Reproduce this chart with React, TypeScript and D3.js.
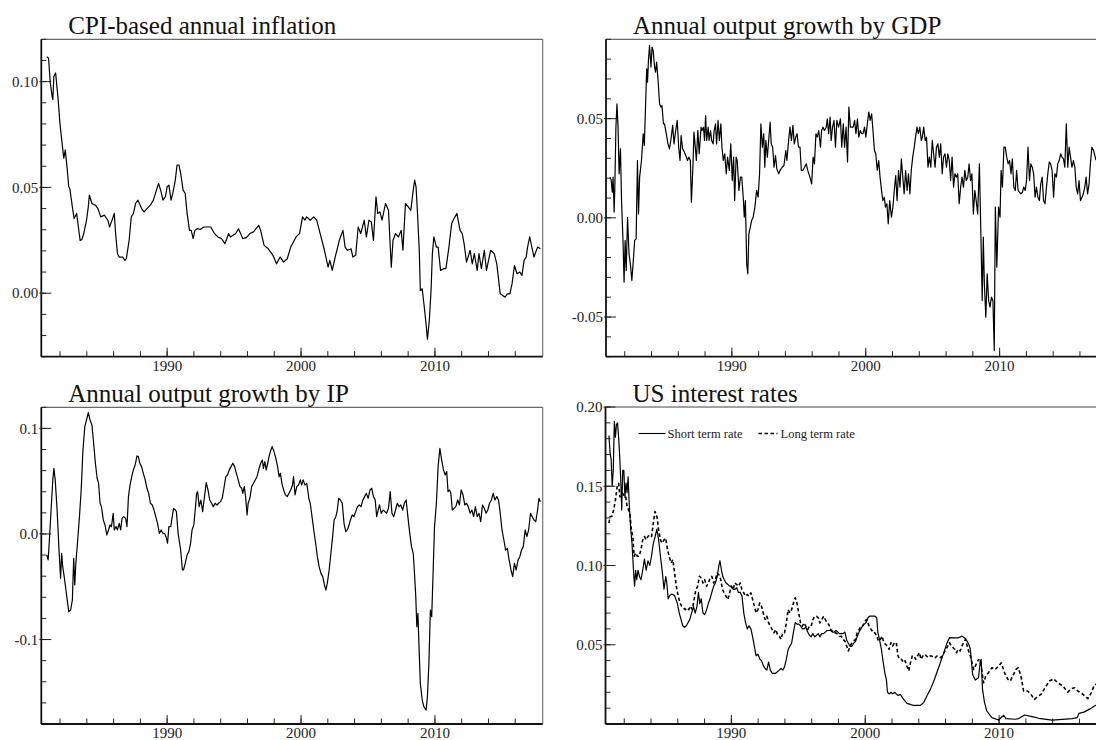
import * as d3 from 'd3';

type Pt = [number, number];

// CPI-based annual inflation (year, rate)
const cpiInflation: Pt[] = [
  [1981.01, 0.1117], [1981.14, 0.1112], [1981.27, 0.0994], [1981.41, 0.093], [1981.46, 0.0915], [1981.54, 0.1025],
  [1981.67, 0.1041], [1981.86, 0.0915], [1981.99, 0.0804], [1982.18, 0.0693], [1982.28, 0.0638], [1982.39, 0.0677],
  [1982.52, 0.0598], [1982.65, 0.0503], [1982.73, 0.0495], [1982.92, 0.0408], [1983.05, 0.0353], [1983.24, 0.0377],
  [1983.37, 0.0313], [1983.5, 0.025], [1983.63, 0.0253], [1983.77, 0.0282], [1983.98, 0.0345], [1984.11, 0.0408],
  [1984.19, 0.0464], [1984.38, 0.0424], [1984.64, 0.0416], [1984.83, 0.04], [1985.04, 0.0361], [1985.31, 0.0369],
  [1985.57, 0.0345], [1985.7, 0.0313], [1985.97, 0.0361], [1986.05, 0.0377], [1986.15, 0.0282], [1986.29, 0.0187],
  [1986.42, 0.0171], [1986.68, 0.0171], [1986.84, 0.0155], [1986.95, 0.0163], [1987.16, 0.025], [1987.32, 0.0361],
  [1987.48, 0.0377], [1987.64, 0.0424], [1987.82, 0.044], [1988.09, 0.04], [1988.28, 0.0384], [1988.49, 0.04],
  [1988.75, 0.0416], [1988.97, 0.044], [1989.2, 0.0487], [1989.36, 0.0519], [1989.55, 0.0479], [1989.68, 0.044],
  [1989.87, 0.0456], [1990.0, 0.0503], [1990.13, 0.0511], [1990.29, 0.044], [1990.42, 0.0472], [1990.61, 0.0535],
  [1990.74, 0.0606], [1990.88, 0.0606], [1991.01, 0.0566], [1991.19, 0.0487], [1991.35, 0.0472], [1991.49, 0.0377],
  [1991.67, 0.0297], [1991.8, 0.0297], [1991.94, 0.0258], [1992.07, 0.0297], [1992.25, 0.0305], [1992.47, 0.0301],
  [1992.73, 0.0313], [1993.0, 0.0313], [1993.26, 0.0313], [1993.53, 0.0282], [1993.79, 0.0266], [1994.06, 0.0258],
  [1994.32, 0.0234], [1994.59, 0.0282], [1994.72, 0.0266], [1995.12, 0.0282], [1995.33, 0.0305], [1995.65, 0.0258],
  [1995.92, 0.0263], [1996.18, 0.0282], [1996.45, 0.029], [1996.84, 0.0321], [1996.98, 0.0297], [1997.24, 0.0226],
  [1997.56, 0.021], [1997.9, 0.0179], [1998.17, 0.0139], [1998.44, 0.0171], [1998.7, 0.0147], [1998.97, 0.0163],
  [1999.23, 0.0218], [1999.63, 0.0266], [1999.89, 0.0282], [2000.11, 0.0361], [2000.29, 0.0345], [2000.42, 0.0361],
  [2000.69, 0.0345], [2000.95, 0.0361], [2001.17, 0.0345], [2001.49, 0.0266], [2001.75, 0.0203], [2002.02, 0.0123],
  [2002.15, 0.0155], [2002.33, 0.0108], [2002.55, 0.0171], [2002.68, 0.0203], [2002.86, 0.025], [2003.13, 0.0297],
  [2003.29, 0.0218], [2003.47, 0.0203], [2003.74, 0.021], [2003.87, 0.0171], [2004.08, 0.0179], [2004.27, 0.0313],
  [2004.46, 0.0282], [2004.72, 0.0345], [2004.88, 0.0266], [2005.07, 0.0345], [2005.25, 0.0337], [2005.41, 0.025],
  [2005.6, 0.0456], [2005.73, 0.0377], [2005.89, 0.0384], [2006.05, 0.0345], [2006.31, 0.0424], [2006.53, 0.0392],
  [2006.74, 0.0123], [2006.87, 0.025], [2007.06, 0.0282], [2007.27, 0.0266], [2007.48, 0.0297], [2007.61, 0.0203],
  [2007.8, 0.0424], [2008.01, 0.0408], [2008.2, 0.0392], [2008.38, 0.0487], [2008.49, 0.0535], [2008.59, 0.0503],
  [2008.7, 0.0377], [2008.83, 0.0203], [2008.91, 0.0013], [2009.05, 0.0021], [2009.18, -0.0051], [2009.34, -0.0146],
  [2009.44, -0.0217], [2009.58, -0.013], [2009.71, 0.0013], [2009.81, 0.0187], [2009.92, 0.0266], [2010.11, 0.0218],
  [2010.24, 0.0218], [2010.42, 0.0108], [2010.64, 0.0116], [2010.82, 0.0116], [2011.03, 0.021], [2011.25, 0.0329],
  [2011.43, 0.0353], [2011.64, 0.0377], [2011.88, 0.0297], [2012.04, 0.0282], [2012.18, 0.0234], [2012.36, 0.0147],
  [2012.63, 0.0203], [2012.79, 0.0139], [2012.94, 0.0187], [2013.16, 0.0108], [2013.29, 0.0187], [2013.47, 0.0116],
  [2013.69, 0.0203], [2013.85, 0.0108], [2014.16, 0.0203], [2014.43, 0.0187], [2014.62, 0.0139], [2014.88, -0.0003],
  [2015.07, -0.0011], [2015.23, -0.0019], [2015.41, -0.0003], [2015.6, -0.0003], [2015.76, 0.0044], [2015.94, 0.0131],
  [2016.13, 0.0092], [2016.34, 0.01], [2016.5, 0.0084], [2016.66, 0.0155], [2016.82, 0.0171], [2016.92, 0.0218],
  [2017.08, 0.0266], [2017.24, 0.0218], [2017.4, 0.0171], [2017.53, 0.0195], [2017.67, 0.0218], [2017.88, 0.021],
];

// Annual output growth by GDP
const gdpGrowth: Pt[] = [
  [1980.91, 0.0205], [1980.99, 0.0188], [1981.07, 0.0129], [1981.13, 0.0205], [1981.21, 0.0029], [1981.26, 0.0155],
  [1981.34, 0.0457], [1981.42, 0.0575], [1981.5, 0.0457], [1981.58, 0.0222], [1981.68, 0.0348], [1981.76, 0.0087],
  [1981.87, -0.0114], [1981.95, -0.0324], [1982.03, -0.0114], [1982.11, -0.0266], [1982.21, 0.0003], [1982.32, -0.0182],
  [1982.42, -0.0232], [1982.53, -0.0316], [1982.64, -0.0215], [1982.74, -0.0114], [1982.85, -0.0106], [1982.95, 0.0289],
  [1983.03, 0.002], [1983.11, 0.0205], [1983.25, 0.0289], [1983.38, 0.0424], [1983.46, 0.0365], [1983.56, 0.0575],
  [1983.64, 0.0751], [1983.7, 0.0684], [1983.77, 0.0793], [1983.85, 0.0869], [1983.96, 0.076], [1984.04, 0.0861],
  [1984.12, 0.0844], [1984.23, 0.076], [1984.3, 0.0734], [1984.38, 0.0785], [1984.49, 0.0692], [1984.6, 0.0575],
  [1984.7, 0.0558], [1984.78, 0.0566], [1984.89, 0.0474], [1984.97, 0.0474], [1985.1, 0.0424], [1985.23, 0.0373],
  [1985.34, 0.0348], [1985.44, 0.039], [1985.58, 0.0466], [1985.68, 0.0373], [1985.79, 0.0432], [1985.92, 0.0491],
  [1986.03, 0.0356], [1986.13, 0.0289], [1986.21, 0.0415], [1986.32, 0.0348], [1986.4, 0.0339], [1986.5, 0.0323],
  [1986.61, 0.0306], [1986.69, 0.0289], [1986.79, 0.0306], [1986.9, 0.0289], [1986.98, 0.0079], [1987.09, 0.0255],
  [1987.17, 0.0432], [1987.25, 0.0373], [1987.35, 0.0289], [1987.46, 0.044], [1987.56, 0.0323], [1987.7, 0.0457],
  [1987.77, 0.044], [1987.88, 0.0457], [1987.96, 0.039], [1988.04, 0.0516], [1988.12, 0.039], [1988.23, 0.0457],
  [1988.3, 0.039], [1988.41, 0.044], [1988.49, 0.039], [1988.6, 0.0373], [1988.68, 0.044], [1988.78, 0.0474],
  [1988.86, 0.0373], [1988.97, 0.0491], [1989.07, 0.039], [1989.18, 0.0474], [1989.26, 0.0356], [1989.36, 0.0289],
  [1989.47, 0.0323], [1989.58, 0.0222], [1989.68, 0.0306], [1989.81, 0.0239], [1989.92, 0.0373], [1990.03, 0.0188],
  [1990.13, 0.0306], [1990.21, 0.0087], [1990.32, 0.0306], [1990.4, 0.0289], [1990.53, 0.0138], [1990.64, 0.0205],
  [1990.74, 0.0205], [1990.85, 0.0104], [1990.93, 0.0003], [1991.01, 0.0087], [1991.11, -0.0232], [1991.19, -0.0282],
  [1991.27, -0.0081], [1991.38, -0.0047], [1991.48, -0.0013], [1991.59, 0.0003], [1991.72, 0.0054], [1991.85, 0.0138],
  [1991.96, 0.0104], [1992.07, 0.0222], [1992.17, 0.0474], [1992.28, 0.0356], [1992.38, 0.0424], [1992.46, 0.0255],
  [1992.54, 0.039], [1992.65, 0.0306], [1992.75, 0.039], [1992.86, 0.0482], [1992.94, 0.0373], [1993.05, 0.0356],
  [1993.15, 0.0255], [1993.26, 0.0314], [1993.36, 0.0247], [1993.5, 0.0222], [1993.6, 0.0239], [1993.76, 0.0255],
  [1993.89, 0.0264], [1994.03, 0.0339], [1994.11, 0.0289], [1994.24, 0.039], [1994.34, 0.0457], [1994.45, 0.039],
  [1994.56, 0.0466], [1994.66, 0.0373], [1994.77, 0.0407], [1994.87, 0.0424], [1994.98, 0.0356], [1995.09, 0.0356],
  [1995.19, 0.0239], [1995.3, 0.0239], [1995.43, 0.0255], [1995.56, 0.0272], [1995.67, 0.0239], [1995.83, 0.0205],
  [1995.96, 0.0171], [1996.07, 0.0306], [1996.17, 0.0272], [1996.28, 0.0424], [1996.38, 0.0407], [1996.49, 0.044],
  [1996.62, 0.0356], [1996.7, 0.044], [1996.81, 0.0457], [1996.91, 0.044], [1997.05, 0.0457], [1997.13, 0.0499],
  [1997.23, 0.0424], [1997.34, 0.0508], [1997.42, 0.039], [1997.52, 0.0457], [1997.63, 0.0491], [1997.74, 0.0356],
  [1997.84, 0.0491], [1997.97, 0.0457], [1998.11, 0.0499], [1998.21, 0.0356], [1998.32, 0.0474], [1998.42, 0.0356],
  [1998.53, 0.0457], [1998.64, 0.0281], [1998.74, 0.0558], [1998.85, 0.0457], [1998.95, 0.0457], [1999.06, 0.0457],
  [1999.17, 0.0491], [1999.27, 0.0424], [1999.38, 0.0499], [1999.48, 0.0407], [1999.59, 0.044], [1999.7, 0.0424],
  [1999.8, 0.0424], [1999.91, 0.0457], [2000.01, 0.0407], [2000.12, 0.0474], [2000.23, 0.0533], [2000.33, 0.0491],
  [2000.44, 0.0524], [2000.54, 0.044], [2000.65, 0.0339], [2000.75, 0.0323], [2000.86, 0.0239], [2000.97, 0.0289],
  [2001.07, 0.0205], [2001.18, 0.0138], [2001.28, 0.0087], [2001.39, 0.0104], [2001.47, 0.0054], [2001.58, 0.0071],
  [2001.68, -0.003], [2001.79, 0.0087], [2001.92, 0.0003], [2002.03, 0.0054], [2002.13, 0.0138], [2002.24, 0.0213],
  [2002.34, 0.0087], [2002.45, 0.0239], [2002.56, 0.0155], [2002.66, 0.0297], [2002.77, 0.0205], [2002.87, 0.0121],
  [2002.98, 0.0239], [2003.09, 0.0138], [2003.19, 0.0222], [2003.3, 0.0121], [2003.4, 0.0239], [2003.51, 0.0306],
  [2003.62, 0.0356], [2003.72, 0.0407], [2003.83, 0.0457], [2003.93, 0.0424], [2004.04, 0.0457], [2004.15, 0.039],
  [2004.23, 0.0407], [2004.33, 0.0457], [2004.44, 0.039], [2004.54, 0.0407], [2004.65, 0.0255], [2004.75, 0.0306],
  [2004.86, 0.0255], [2004.97, 0.039], [2005.07, 0.0323], [2005.18, 0.0255], [2005.28, 0.0356], [2005.39, 0.0373],
  [2005.5, 0.0306], [2005.6, 0.0373], [2005.71, 0.0222], [2005.81, 0.0306], [2005.92, 0.0323], [2006.03, 0.0255],
  [2006.13, 0.0323], [2006.24, 0.0289], [2006.34, 0.0188], [2006.45, 0.0306], [2006.56, 0.0155], [2006.66, 0.0222],
  [2006.77, 0.0205], [2006.87, 0.0222], [2006.98, 0.0071], [2007.09, 0.0155], [2007.19, 0.0205], [2007.3, 0.0155],
  [2007.4, 0.0239], [2007.51, 0.0188], [2007.62, 0.0205], [2007.72, 0.0272], [2007.83, 0.0188], [2007.93, 0.0222],
  [2008.04, 0.002], [2008.15, 0.0138], [2008.25, 0.0087], [2008.36, 0.002], [2008.49, 0.0272], [2008.6, -0.0081],
  [2008.7, -0.0417], [2008.78, -0.0097], [2008.86, -0.0333], [2008.97, -0.0501], [2009.07, -0.0282], [2009.18, -0.0417],
  [2009.28, -0.045], [2009.39, -0.04], [2009.5, -0.0417], [2009.6, -0.0669], [2009.68, 0.0054], [2009.79, -0.0249],
  [2009.92, 0.0054], [2010.03, 0.0003], [2010.11, 0.0239], [2010.21, 0.0155], [2010.32, 0.0356], [2010.42, 0.0356],
  [2010.53, 0.0306], [2010.64, 0.0272], [2010.74, 0.0289], [2010.85, 0.0222], [2010.95, 0.0297], [2011.06, 0.0155],
  [2011.17, 0.0138], [2011.27, 0.0239], [2011.38, 0.0138], [2011.48, 0.0129], [2011.59, 0.0121], [2011.7, 0.0129],
  [2011.8, 0.0155], [2011.91, 0.0138], [2012.01, 0.0188], [2012.12, 0.0356], [2012.23, 0.0188], [2012.33, 0.0272],
  [2012.44, 0.0255], [2012.54, 0.0222], [2012.65, 0.0104], [2012.75, 0.0155], [2012.86, 0.0104], [2012.97, 0.0087],
  [2013.07, 0.0171], [2013.18, 0.0205], [2013.28, 0.0087], [2013.39, 0.0071], [2013.5, 0.0155], [2013.6, 0.0222],
  [2013.71, 0.0281], [2013.81, 0.0272], [2013.92, 0.0239], [2014.03, 0.0104], [2014.13, 0.0222], [2014.24, 0.0205],
  [2014.34, 0.0272], [2014.45, 0.0289], [2014.56, 0.0323], [2014.66, 0.0306], [2014.77, 0.0297], [2014.87, 0.0255],
  [2014.98, 0.0474], [2015.09, 0.0255], [2015.19, 0.0356], [2015.3, 0.0306], [2015.4, 0.0255], [2015.51, 0.0289],
  [2015.62, 0.0255], [2015.72, 0.0155], [2015.83, 0.0121], [2015.93, 0.0188], [2016.04, 0.0087], [2016.15, 0.0104],
  [2016.25, 0.0121], [2016.36, 0.0155], [2016.46, 0.0205], [2016.57, 0.0121], [2016.68, 0.0171], [2016.78, 0.0272],
  [2016.89, 0.0356], [2017.02, 0.0339], [2017.2, 0.029],
];

// Annual output growth by IP
const ipGrowth: Pt[] = [
  [1981.01, -0.0199], [1981.11, -0.0246], [1981.19, -0.0088], [1981.33, 0.0227], [1981.46, 0.0512], [1981.54, 0.0622],
  [1981.64, 0.0512], [1981.78, 0.0227], [1981.91, -0.012], [1982.04, -0.042], [1982.12, -0.0183], [1982.2, -0.031],
  [1982.31, -0.0404], [1982.44, -0.0531], [1982.57, -0.0657], [1982.65, -0.0736], [1982.79, -0.072], [1982.92, -0.0626],
  [1983.02, -0.0231], [1983.1, -0.0483], [1983.18, -0.0278], [1983.32, -0.0057], [1983.45, 0.0164], [1983.58, 0.0417],
  [1983.71, 0.0796], [1983.85, 0.1017], [1983.98, 0.1081], [1984.11, 0.115], [1984.24, 0.1081], [1984.38, 0.1033],
  [1984.51, 0.0859], [1984.64, 0.067], [1984.77, 0.0528], [1984.88, 0.048], [1984.99, 0.0291], [1985.09, 0.0259],
  [1985.23, 0.0133], [1985.36, 0.0085], [1985.49, -0.0009], [1985.62, 0.0038], [1985.73, 0.0085], [1985.84, 0.007],
  [1985.97, 0.0196], [1986.05, 0.0038], [1986.18, 0.007], [1986.29, 0.0038], [1986.42, 0.0101], [1986.53, 0.0038],
  [1986.63, 0.0148], [1986.76, 0.0164], [1986.9, 0.0148], [1987.0, 0.007], [1987.11, 0.0354], [1987.21, 0.0449],
  [1987.35, 0.0543], [1987.48, 0.0607], [1987.61, 0.0654], [1987.75, 0.0739], [1987.85, 0.0733], [1987.96, 0.067],
  [1988.09, 0.0638], [1988.22, 0.0575], [1988.36, 0.0512], [1988.49, 0.0433], [1988.62, 0.0385], [1988.75, 0.0291],
  [1988.89, 0.0275], [1989.02, 0.0227], [1989.15, 0.0164], [1989.28, 0.0101], [1989.42, 0.0006], [1989.55, 0.0038],
  [1989.68, 0.0006], [1989.81, 0.0006], [1989.95, -0.0041], [1990.03, -0.0088], [1990.13, 0.007], [1990.27, 0.007],
  [1990.34, 0.0133], [1990.48, 0.0243], [1990.61, 0.0227], [1990.69, 0.0212], [1990.82, 0.0006], [1990.93, -0.0088],
  [1991.01, -0.0152], [1991.14, -0.0341], [1991.22, -0.0341], [1991.35, -0.0278], [1991.49, -0.0199], [1991.62, -0.0167],
  [1991.75, -0.0088], [1991.86, 0.0038], [1991.99, 0.0085], [1992.12, 0.0259], [1992.2, 0.0385], [1992.28, 0.0401],
  [1992.39, 0.0259], [1992.52, 0.0322], [1992.65, 0.0212], [1992.79, 0.0354], [1992.92, 0.0487], [1993.05, 0.0417],
  [1993.18, 0.0322], [1993.32, 0.0291], [1993.45, 0.0259], [1993.58, 0.0291], [1993.71, 0.0275], [1993.85, 0.0291],
  [1993.98, 0.0306], [1994.11, 0.0338], [1994.24, 0.0433], [1994.38, 0.0543], [1994.51, 0.0559], [1994.64, 0.0607],
  [1994.77, 0.0638], [1994.91, 0.067], [1995.04, 0.0638], [1995.17, 0.0575], [1995.31, 0.0512], [1995.44, 0.0449],
  [1995.57, 0.0433], [1995.65, 0.0385], [1995.76, 0.0449], [1995.86, 0.0354], [1995.97, 0.018], [1996.05, 0.0291],
  [1996.18, 0.0338], [1996.31, 0.0449], [1996.45, 0.048], [1996.58, 0.0512], [1996.71, 0.0543], [1996.84, 0.0607],
  [1996.98, 0.067], [1997.11, 0.0701], [1997.19, 0.0622], [1997.29, 0.0686], [1997.4, 0.0607], [1997.51, 0.067],
  [1997.64, 0.0749], [1997.75, 0.0796], [1997.85, 0.0828], [1997.98, 0.078], [1998.12, 0.0717], [1998.25, 0.0638],
  [1998.36, 0.0543], [1998.46, 0.0575], [1998.57, 0.048], [1998.7, 0.0417], [1998.83, 0.037], [1998.97, 0.0354],
  [1999.1, 0.0385], [1999.23, 0.0417], [1999.36, 0.0464], [1999.44, 0.0543], [1999.55, 0.037], [1999.68, 0.0449],
  [1999.81, 0.0464], [1999.95, 0.0512], [2000.05, 0.0464], [2000.16, 0.0512], [2000.29, 0.0464], [2000.42, 0.048],
  [2000.5, 0.0417], [2000.58, 0.0338], [2000.69, 0.0291], [2000.82, 0.0164], [2000.95, 0.0038], [2001.09, -0.0088],
  [2001.22, -0.0215], [2001.35, -0.031], [2001.49, -0.0373], [2001.62, -0.0404], [2001.75, -0.0483], [2001.86, -0.0531],
  [2001.96, -0.0468], [2002.1, -0.0341], [2002.23, -0.0183], [2002.36, -0.0025], [2002.47, 0.0133], [2002.6, 0.0164],
  [2002.71, 0.0227], [2002.81, 0.0338], [2002.94, 0.0322], [2003.08, 0.0291], [2003.21, 0.0101], [2003.34, 0.0022],
  [2003.45, 0.0038], [2003.55, 0.007], [2003.69, 0.0133], [2003.82, 0.018], [2003.95, 0.0164], [2004.08, 0.0212],
  [2004.22, 0.0259], [2004.35, 0.0275], [2004.48, 0.0259], [2004.62, 0.0322], [2004.75, 0.0354], [2004.88, 0.0385],
  [2005.01, 0.0338], [2005.15, 0.0417], [2005.28, 0.0433], [2005.41, 0.0354], [2005.54, 0.0322], [2005.65, 0.0164],
  [2005.76, 0.0227], [2005.86, 0.0275], [2005.99, 0.0196], [2006.13, 0.0227], [2006.26, 0.0212], [2006.39, 0.0196],
  [2006.53, 0.0243], [2006.66, 0.0401], [2006.79, 0.0196], [2006.92, 0.0164], [2007.06, 0.0227], [2007.19, 0.0291],
  [2007.32, 0.0259], [2007.45, 0.0275], [2007.59, 0.0227], [2007.72, 0.0291], [2007.85, 0.0322], [2007.98, 0.0164],
  [2008.12, 0.0006], [2008.25, -0.012], [2008.38, -0.0183], [2008.46, -0.0341], [2008.57, -0.0594], [2008.65, -0.0878],
  [2008.73, -0.0752], [2008.83, -0.1131], [2008.91, -0.1415], [2009.05, -0.1573], [2009.18, -0.1637], [2009.34, -0.1668],
  [2009.44, -0.1542], [2009.55, -0.1226], [2009.66, -0.072], [2009.76, -0.0784], [2009.87, -0.0341], [2009.97, 0.007],
  [2010.11, 0.0291], [2010.24, 0.0638], [2010.37, 0.0812], [2010.5, 0.0701], [2010.64, 0.0607], [2010.77, 0.0559],
  [2010.88, 0.0591], [2010.98, 0.0401], [2011.09, 0.0417], [2011.19, 0.0385], [2011.3, 0.0227], [2011.43, 0.0243],
  [2011.56, 0.0259], [2011.7, 0.0322], [2011.83, 0.0275], [2011.96, 0.0417], [2012.1, 0.037], [2012.23, 0.0275],
  [2012.36, 0.0291], [2012.49, 0.0259], [2012.63, 0.0196], [2012.76, 0.0227], [2012.89, 0.0164], [2013.02, 0.0259],
  [2013.16, 0.0164], [2013.29, 0.0196], [2013.42, 0.0117], [2013.55, 0.0275], [2013.69, 0.0243], [2013.82, 0.0196],
  [2013.95, 0.0227], [2014.08, 0.0291], [2014.22, 0.0322], [2014.35, 0.0385], [2014.48, 0.0322], [2014.62, 0.0354],
  [2014.75, 0.0322], [2014.88, 0.0196], [2015.01, 0.0038], [2015.15, -0.0057], [2015.28, -0.0152], [2015.41, -0.0136],
  [2015.54, -0.0246], [2015.68, -0.0341], [2015.81, -0.0404], [2015.94, -0.0278], [2016.07, -0.0341], [2016.21, -0.0246],
  [2016.34, -0.0215], [2016.47, -0.0152], [2016.6, -0.012], [2016.74, 0.0038], [2016.87, -0.0025], [2017.0, 0.0038],
  [2017.14, 0.0196], [2017.27, 0.0164], [2017.4, 0.0133], [2017.53, 0.0117], [2017.67, 0.0227], [2017.77, 0.0338],
  [2017.88, 0.0306],
];

// US short term interest rate
const shortRate: Pt[] = [
  [1980.86, 0.182], [1980.94, 0.171], [1981.02, 0.167], [1981.1, 0.15], [1981.18, 0.16], [1981.26, 0.191],
  [1981.34, 0.181], [1981.42, 0.189], [1981.5, 0.19], [1981.58, 0.181], [1981.66, 0.169], [1981.74, 0.154],
  [1981.81, 0.135], [1981.89, 0.16], [1981.97, 0.16], [1982.05, 0.143], [1982.13, 0.152], [1982.21, 0.146],
  [1982.29, 0.156], [1982.37, 0.139], [1982.48, 0.123], [1982.58, 0.114], [1982.69, 0.097], [1982.77, 0.087],
  [1982.85, 0.097], [1982.93, 0.091], [1983.03, 0.097], [1983.14, 0.093], [1983.25, 0.091], [1983.38, 0.097],
  [1983.51, 0.104], [1983.64, 0.097], [1983.77, 0.103], [1983.91, 0.1], [1984.04, 0.106], [1984.17, 0.114],
  [1984.3, 0.118], [1984.44, 0.123], [1984.57, 0.116], [1984.7, 0.106], [1984.83, 0.097], [1984.97, 0.085],
  [1985.1, 0.093], [1985.18, 0.089], [1985.28, 0.079], [1985.39, 0.081], [1985.55, 0.082], [1985.76, 0.081],
  [1985.97, 0.076], [1986.11, 0.07], [1986.24, 0.066], [1986.37, 0.062], [1986.5, 0.061], [1986.64, 0.062],
  [1986.77, 0.064], [1986.9, 0.066], [1987.03, 0.07], [1987.17, 0.074], [1987.3, 0.07], [1987.43, 0.074],
  [1987.54, 0.083], [1987.64, 0.076], [1987.75, 0.079], [1987.88, 0.07], [1988.01, 0.069], [1988.15, 0.072],
  [1988.28, 0.076], [1988.41, 0.079], [1988.54, 0.083], [1988.68, 0.087], [1988.81, 0.089], [1988.94, 0.093],
  [1989.07, 0.1], [1989.15, 0.103], [1989.26, 0.097], [1989.36, 0.093], [1989.47, 0.091], [1989.6, 0.089],
  [1989.74, 0.088], [1989.87, 0.087], [1990.0, 0.087], [1990.13, 0.085], [1990.26, 0.085], [1990.4, 0.086],
  [1990.53, 0.083], [1990.66, 0.083], [1990.79, 0.081], [1990.93, 0.07], [1991.06, 0.064], [1991.19, 0.06],
  [1991.32, 0.062], [1991.46, 0.06], [1991.59, 0.055], [1991.72, 0.049], [1991.85, 0.043], [1991.99, 0.044],
  [1992.12, 0.041], [1992.25, 0.04], [1992.38, 0.037], [1992.52, 0.035], [1992.65, 0.034], [1992.78, 0.039],
  [1992.91, 0.034], [1993.05, 0.032], [1993.31, 0.032], [1993.58, 0.034], [1993.71, 0.035], [1993.84, 0.034],
  [1993.97, 0.036], [1994.11, 0.041], [1994.24, 0.047], [1994.37, 0.049], [1994.5, 0.051], [1994.64, 0.058],
  [1994.77, 0.064], [1994.9, 0.063], [1995.03, 0.063], [1995.17, 0.062], [1995.3, 0.06], [1995.43, 0.06],
  [1995.56, 0.061], [1995.7, 0.058], [1995.83, 0.056], [1995.96, 0.055], [1996.09, 0.057], [1996.23, 0.055],
  [1996.36, 0.056], [1996.49, 0.057], [1996.62, 0.055], [1996.75, 0.057], [1996.89, 0.057], [1997.02, 0.058],
  [1997.15, 0.059], [1997.42, 0.059], [1997.55, 0.058], [1997.68, 0.058], [1997.81, 0.059], [1997.95, 0.058],
  [1998.08, 0.057], [1998.34, 0.057], [1998.48, 0.058], [1998.61, 0.053], [1998.74, 0.051], [1998.87, 0.049],
  [1999.01, 0.049], [1999.14, 0.051], [1999.27, 0.052], [1999.4, 0.055], [1999.54, 0.058], [1999.67, 0.06],
  [1999.8, 0.062], [1999.93, 0.063], [2000.07, 0.064], [2000.2, 0.067], [2000.33, 0.068], [2000.46, 0.068],
  [2000.6, 0.068], [2000.73, 0.068], [2000.86, 0.067], [2000.94, 0.058], [2001.07, 0.053], [2001.21, 0.047],
  [2001.34, 0.039], [2001.47, 0.032], [2001.58, 0.028], [2001.66, 0.02], [2001.79, 0.019], [2001.92, 0.02],
  [2002.05, 0.019], [2002.19, 0.02], [2002.32, 0.019], [2002.45, 0.018], [2002.62, 0.0187], [2002.87, 0.0155],
  [2003.12, 0.013], [2003.37, 0.0124], [2003.6, 0.0117], [2004.12, 0.0118], [2004.37, 0.0135], [2004.62, 0.018],
  [2004.87, 0.022], [2005.12, 0.027], [2005.37, 0.033], [2005.62, 0.039], [2005.87, 0.045], [2006.1, 0.051],
  [2006.3, 0.0545], [2006.69, 0.0544], [2006.95, 0.0544], [2007.09, 0.0548], [2007.22, 0.0555], [2007.48, 0.054],
  [2007.62, 0.052], [2007.75, 0.05], [2007.85, 0.047], [2008.02, 0.0312], [2008.22, 0.0277], [2008.46, 0.0292],
  [2008.59, 0.0396], [2008.66, 0.0407], [2008.76, 0.0218], [2008.91, 0.0135], [2009.08, 0.0082], [2009.46, 0.004],
  [2009.96, 0.0025], [2010.34, 0.0055], [2010.51, 0.0034], [2011.21, 0.003], [2011.46, 0.0034], [2011.91, 0.0057],
  [2012.46, 0.0047], [2012.96, 0.0036], [2013.96, 0.0025], [2015.46, 0.0034], [2015.84, 0.004], [2015.96, 0.0067],
  [2016.33, 0.0075], [2016.83, 0.0097], [2017.2, 0.0118], [2017.9, 0.0135],
];

// US long term interest rate
const longRate: Pt[] = [
  [1980.86, 0.1267], [1980.94, 0.1309], [1981.07, 0.1309], [1981.21, 0.1351], [1981.34, 0.1413], [1981.47, 0.1497],
  [1981.58, 0.1518], [1981.68, 0.1434], [1981.79, 0.1434], [1981.89, 0.1455], [1982.0, 0.1434], [1982.11, 0.1434],
  [1982.21, 0.1371], [1982.32, 0.1351], [1982.42, 0.133], [1982.53, 0.1225], [1982.64, 0.1183], [1982.74, 0.1058],
  [1982.85, 0.1079], [1982.98, 0.1058], [1983.11, 0.1058], [1983.25, 0.11], [1983.38, 0.1162], [1983.51, 0.1183],
  [1983.64, 0.1162], [1983.77, 0.1183], [1983.91, 0.1193], [1984.04, 0.1183], [1984.17, 0.1267], [1984.3, 0.134],
  [1984.44, 0.1309], [1984.57, 0.1225], [1984.7, 0.1162], [1984.83, 0.1141], [1984.97, 0.1162], [1985.1, 0.1172],
  [1985.23, 0.11], [1985.36, 0.1058], [1985.5, 0.1016], [1985.63, 0.1037], [1985.76, 0.0953], [1985.89, 0.0869],
  [1986.03, 0.0806], [1986.16, 0.0764], [1986.29, 0.0743], [1986.42, 0.0733], [1986.56, 0.0722], [1986.69, 0.0733],
  [1986.82, 0.0722], [1986.95, 0.0743], [1987.09, 0.0722], [1987.22, 0.0785], [1987.35, 0.0848], [1987.48, 0.0869],
  [1987.62, 0.0932], [1987.75, 0.0921], [1987.88, 0.089], [1988.01, 0.0911], [1988.15, 0.0869], [1988.28, 0.089],
  [1988.41, 0.0921], [1988.54, 0.0932], [1988.68, 0.089], [1988.81, 0.0911], [1988.94, 0.0953], [1989.07, 0.0942],
  [1989.21, 0.0911], [1989.34, 0.0848], [1989.47, 0.0827], [1989.6, 0.0806], [1989.74, 0.0785], [1989.87, 0.0827],
  [1990.0, 0.0869], [1990.13, 0.0848], [1990.26, 0.089], [1990.4, 0.088], [1990.53, 0.0869], [1990.66, 0.089],
  [1990.79, 0.0848], [1990.93, 0.0827], [1991.06, 0.0806], [1991.19, 0.0817], [1991.32, 0.0806], [1991.46, 0.0827],
  [1991.59, 0.0785], [1991.72, 0.0743], [1991.85, 0.0701], [1991.99, 0.0722], [1992.12, 0.0764], [1992.25, 0.0743],
  [1992.38, 0.0701], [1992.52, 0.0659], [1992.65, 0.068], [1992.78, 0.0638], [1992.91, 0.0617], [1993.05, 0.0596],
  [1993.18, 0.0575], [1993.31, 0.0596], [1993.44, 0.0565], [1993.58, 0.0554], [1993.71, 0.0534], [1993.84, 0.0575],
  [1993.97, 0.0575], [1994.11, 0.0638], [1994.24, 0.0722], [1994.37, 0.0701], [1994.5, 0.0722], [1994.64, 0.0764],
  [1994.77, 0.0796], [1994.9, 0.0764], [1995.03, 0.0701], [1995.17, 0.0638], [1995.3, 0.0617], [1995.43, 0.0638],
  [1995.56, 0.0617], [1995.7, 0.0596], [1995.83, 0.0617], [1995.96, 0.0617], [1996.09, 0.0659], [1996.23, 0.068],
  [1996.36, 0.068], [1996.49, 0.067], [1996.62, 0.0638], [1996.75, 0.0659], [1996.89, 0.068], [1997.02, 0.0659],
  [1997.15, 0.0638], [1997.28, 0.0628], [1997.42, 0.0596], [1997.55, 0.0586], [1997.68, 0.0575], [1997.81, 0.0575],
  [1997.95, 0.0565], [1998.08, 0.0554], [1998.21, 0.0554], [1998.34, 0.0534], [1998.48, 0.0523], [1998.61, 0.0492],
  [1998.74, 0.0461], [1998.87, 0.0492], [1999.01, 0.0513], [1999.14, 0.0523], [1999.27, 0.0534], [1999.4, 0.0575],
  [1999.54, 0.0596], [1999.67, 0.0617], [1999.8, 0.0617], [1999.93, 0.0638], [2000.07, 0.0659], [2000.2, 0.0638],
  [2000.33, 0.0607], [2000.46, 0.0596], [2000.6, 0.0575], [2000.73, 0.0575], [2000.86, 0.0554], [2000.99, 0.0523],
  [2001.13, 0.0534], [2001.26, 0.0554], [2001.39, 0.0513], [2001.52, 0.0502], [2001.66, 0.0492], [2001.79, 0.0471],
  [2001.92, 0.0513], [2002.05, 0.0492], [2002.19, 0.0513], [2002.32, 0.0513], [2002.45, 0.0429], [2002.58, 0.0408],
  [2002.72, 0.0408], [2002.85, 0.0387], [2002.98, 0.0398], [2003.11, 0.0366], [2003.25, 0.0335], [2003.38, 0.0387],
  [2003.51, 0.0429], [2003.64, 0.0429], [2003.77, 0.0408], [2003.91, 0.0429], [2004.04, 0.045], [2004.17, 0.0408],
  [2004.3, 0.0429], [2004.44, 0.044], [2004.57, 0.0429], [2004.7, 0.0419], [2004.83, 0.0429], [2004.97, 0.0429],
  [2005.1, 0.0419], [2005.23, 0.0419], [2005.36, 0.0429], [2005.5, 0.0429], [2005.63, 0.0419], [2005.76, 0.0429],
  [2005.89, 0.045], [2006.03, 0.0471], [2006.16, 0.0492], [2006.29, 0.0513], [2006.42, 0.0492], [2006.56, 0.0481],
  [2006.69, 0.0471], [2006.82, 0.045], [2006.95, 0.0471], [2007.09, 0.0461], [2007.22, 0.0492], [2007.35, 0.0513],
  [2007.48, 0.0534], [2007.62, 0.0492], [2007.75, 0.045], [2007.86, 0.0428], [2007.98, 0.0386], [2008.1, 0.0344],
  [2008.46, 0.0407], [2008.6, 0.0396], [2008.84, 0.026], [2009.0, 0.0302], [2009.2, 0.0323], [2009.46, 0.0355],
  [2009.7, 0.0344], [2009.96, 0.0365], [2010.16, 0.0386], [2010.41, 0.0323], [2010.66, 0.0281], [2010.83, 0.0271],
  [2011.26, 0.0344], [2011.43, 0.0355], [2011.63, 0.0302], [2011.83, 0.0208], [2012.13, 0.0208], [2012.38, 0.0187],
  [2012.63, 0.0155], [2012.93, 0.0176], [2013.13, 0.0187], [2013.43, 0.0229], [2013.76, 0.0271], [2014.08, 0.0285],
  [2014.38, 0.026], [2014.76, 0.0239], [2015.13, 0.0201], [2015.38, 0.0222], [2015.63, 0.0229], [2015.88, 0.0208],
  [2016.26, 0.0187], [2016.63, 0.016], [2016.88, 0.0197], [2017.08, 0.0239], [2017.38, 0.026],
];

const cpiTicks = [0.0, 0.05, 0.1];
const gdpTicks = [-0.05, 0.0, 0.05];
const ipTicks = [-0.1, 0.0, 0.1];
const rateTicks = [0.05, 0.1, 0.15, 0.2];
const yearTicks = [1990, 2000, 2010];
const seriesNames = ['Short term rate', 'Long term rate'];

const FONT = '"Liberation Serif", "Times New Roman", Times, serif';
const X_DOMAIN: [number, number] = [1980.6, 2018.05];

interface Series {
  data: Pt[];
  dash?: string;
  width?: number;
}

interface PanelProps {
  left: number;
  top: number;
  width: number;
  height: number;
  title: string;
  yDomain: [number, number];
  yTicks: number[];
  digits: number;
  minorStep: number;
  series: Series[];
  legend?: boolean;
}

function Panel({ left, top, width, height, title, yDomain, yTicks, digits, minorStep, series, legend }: PanelProps) {
  const x = d3.scaleLinear().domain(X_DOMAIN).range([left, left + width]);
  const y = d3.scaleLinear().domain(yDomain).range([top + height, top]);
  const bottom = top + height;
  const right = left + width;

  const line = d3
    .line<Pt>()
    .x((d) => x(d[0]))
    .y((d) => y(d[1]));

  const minorY = d3
    .range(Math.ceil(yDomain[0] / minorStep - 1e-6), Math.floor(yDomain[1] / minorStep + 1e-6) + 1)
    .map((i) => i * minorStep);
  const minorX = d3.range(1982, 2018, 2);
  // plain hyphen for negatives, as in the original figure
  const fmt = (v: number) => d3.format(`.${digits}f`)(v).replace('\u2212', '-');
  const clipId = `clip-${title.replace(/\W/g, '')}`;

  return (
    <g>
      <defs>
        <clipPath id={clipId}>
          <rect x={left} y={top} width={width} height={height} />
        </clipPath>
      </defs>

      <text x={left + 27} y={top - 5} fontSize={25} fontFamily={FONT} fill="#111">
        {title}
      </text>

      {/* frame */}
      <line x1={left} x2={right} y1={top} y2={top} stroke="#444" strokeWidth={1} />
      <line x1={right} x2={right} y1={top} y2={bottom} stroke="#777" strokeWidth={1.2} />

      {/* minor ticks */}
      {minorY.map((v) => (
        <line key={`my${v}`} x1={left} x2={left + 5} y1={y(v)} y2={y(v)} stroke="#222" strokeWidth={1} />
      ))}
      {minorX.map((v) => (
        <line key={`mx${v}`} x1={x(v)} x2={x(v)} y1={bottom} y2={bottom - 5.5} stroke="#222" strokeWidth={1} />
      ))}

      {/* major ticks and labels */}
      {yTicks.map((v) => (
        <g key={`y${v}`}>
          <line x1={left - 2} x2={left + 10} y1={y(v)} y2={y(v)} stroke="#222" strokeWidth={1} />
          <text x={left - 3} y={y(v)} dy="0.35em" textAnchor="end" fontSize={15} fontFamily={FONT} fill="#222">
            {fmt(v)}
          </text>
        </g>
      ))}
      {yearTicks.map((v) => (
        <g key={`x${v}`}>
          <line x1={x(v)} x2={x(v)} y1={bottom} y2={bottom - 9} stroke="#222" strokeWidth={1} />
          <text x={x(v)} y={bottom + 14} textAnchor="middle" fontSize={15} fontFamily={FONT} fill="#222">
            {v}
          </text>
        </g>
      ))}

      {/* series */}
      <g clipPath={`url(#${clipId})`}>
        {series.map((s, i) => (
          <path
            key={i}
            d={line(s.data) ?? ''}
            fill="none"
            stroke="#000"
            strokeWidth={s.width ?? 1.2}
            strokeDasharray={s.dash}
            strokeLinejoin="round"
          />
        ))}
      </g>

      {/* axes on top */}
      <line x1={left} x2={left} y1={top} y2={bottom} stroke="#111" strokeWidth={1.8} />
      <line x1={left} x2={right} y1={bottom} y2={bottom} stroke="#111" strokeWidth={1.8} />

      {legend && (
        <g fontFamily={FONT} fontSize={12.5} fill="#222">
          <line x1={left + 33} x2={left + 60} y1={top + 26.5} y2={top + 26.5} stroke="#000" strokeWidth={1.1} />
          <text x={left + 62} y={top + 26.5} dy="0.35em">
            {seriesNames[0]}
          </text>
          <line
            x1={left + 153}
            x2={left + 172}
            y1={top + 26.5}
            y2={top + 26.5}
            stroke="#000"
            strokeWidth={1.6}
            strokeDasharray="3.5,2.5"
          />
          <text x={left + 175} y={top + 26.5} dy="0.35em">
            {seriesNames[1]}
          </text>
        </g>
      )}
    </g>
  );
}

export default function App() {
  return (
    <svg
      width={1096}
      height={740}
      style={{ position: 'absolute', left: 0, top: 0, background: '#fff' }}
    >
      <rect width={1096} height={740} fill="#fff" />
      <Panel
        left={41.3}
        top={39.3}
        width={501.4}
        height={317.4}
        title="CPI-based annual inflation"
        yDomain={[-0.03, 0.12]}
        yTicks={cpiTicks}
        digits={2}
        minorStep={0.01}
        series={[{ data: cpiInflation }]}
      />
      <Panel
        left={606}
        top={39.3}
        width={501.4}
        height={317.4}
        title="Annual output growth by GDP"
        yDomain={[-0.07, 0.09]}
        yTicks={gdpTicks}
        digits={2}
        minorStep={0.01}
        series={[{ data: gdpGrowth }]}
      />
      <Panel
        left={41.3}
        top={407.3}
        width={501.4}
        height={316.7}
        title="Annual output growth by IP"
        yDomain={[-0.18, 0.12]}
        yTicks={ipTicks}
        digits={1}
        minorStep={0.02}
        series={[{ data: ipGrowth }]}
      />
      <Panel
        left={605.5}
        top={407}
        width={501.4}
        height={317}
        title="US interest rates"
        yDomain={[0.0, 0.2]}
        yTicks={rateTicks}
        digits={2}
        minorStep={0.01}
        series={[{ data: shortRate }, { data: longRate, dash: '3.5,2.5', width: 1.6 }]}
        legend
      />
    </svg>
  );
}
